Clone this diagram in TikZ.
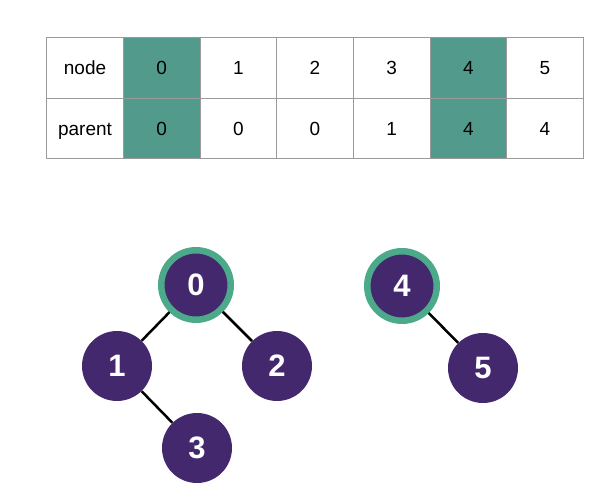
\documentclass[tikz,border=0pt]{standalone}
\usepackage{fontspec}
\setmainfont{Liberation Sans}
\definecolor{tealcell}{HTML}{529B8C}
\definecolor{ringgreen}{HTML}{4CAA8A}
\definecolor{treepurple}{HTML}{43286E}
\definecolor{gridgray}{HTML}{9A9A9A}
\tikzset{
  cell/.style={draw=gridgray, line width=0.8pt, minimum width=76.66pt, minimum height=60.5pt, inner sep=0pt, text height=13.6pt, text depth=0pt, font=\fontsize{19}{21}\selectfont, anchor=center},
  hicell/.style={cell, fill=tealcell},
  tnode/.style={circle, fill=treepurple, minimum size=70pt, inner sep=0pt, text=white, font=\fontsize{31}{34}\selectfont\bfseries},
  rootnode/.style={tnode, draw=ringgreen, line width=6.5pt, minimum size=69.5pt},
  link/.style={line width=2.5pt, black}
}
\begin{document}
\begin{tikzpicture}[x=1pt,y=-1pt]
\useasboundingbox (0,0) rectangle (600,502);
% table
\node[cell]   (h0) at (85.03,67.8) {node};
\node[hicell] (n0) at (161.69,67.8) {0};
\node[cell]   (n1) at (238.35,67.8) {1};
\node[cell]   (n2) at (315.01,67.8) {2};
\node[cell]   (n3) at (391.67,67.8) {3};
\node[hicell] (n4) at (468.33,67.8) {4};
\node[cell]   (n5) at (544.99,67.8) {5};
\node[cell]   (h1) at (85.03,128.3) {parent};
\node[hicell] (p0) at (161.69,128.3) {0};
\node[cell]   (p1) at (238.35,128.3) {0};
\node[cell]   (p2) at (315.01,128.3) {0};
\node[cell]   (p3) at (391.67,128.3) {1};
\node[hicell] (p4) at (468.33,128.3) {4};
\node[cell]   (p5) at (544.99,128.3) {4};
% trees
\node[rootnode] (t0) at (196,285) {0};
\node[tnode]    (t1) at (117,366) {1};
\node[tnode]    (t2) at (277,366) {2};
\node[tnode]    (t3) at (197,448) {3};
\node[rootnode] (t4) at (402,286) {4};
\node[tnode]    (t5) at (483,368) {5};
\draw[link] (t0) -- (t1);
\draw[link] (t0) -- (t2);
\draw[link] (t1) -- (t3);
\draw[link] (t4) -- (t5);
\end{tikzpicture}
\end{document}
